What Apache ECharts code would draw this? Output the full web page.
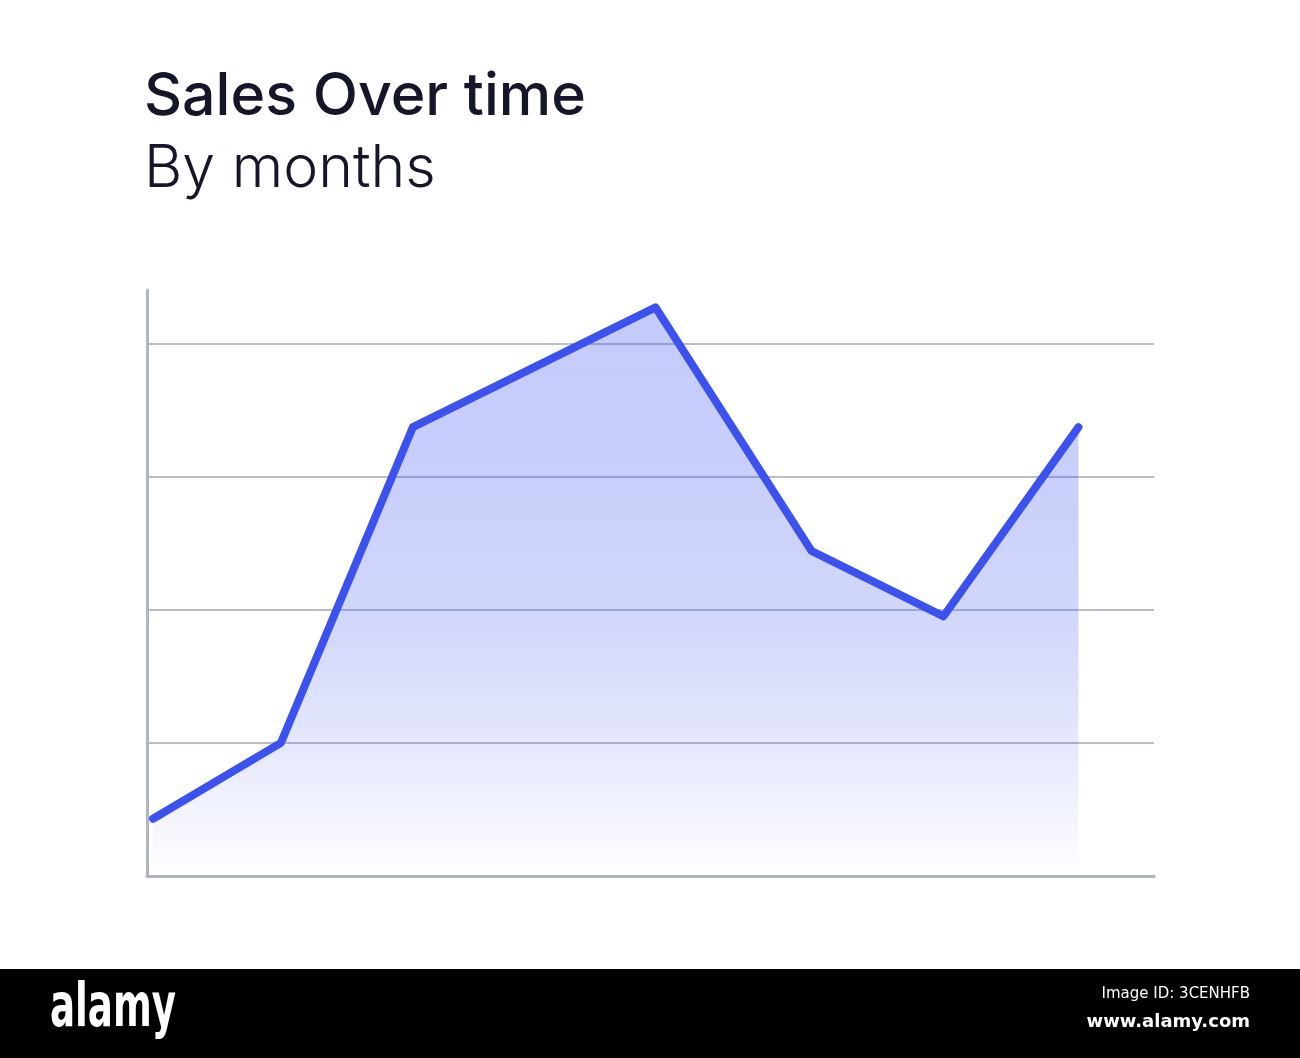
<html lang="en">
  <head>
    <meta charset="utf-8" />
    <title>Sales Over time</title>
    <script src="https://cdn.jsdelivr.net/npm/echarts@6/dist/echarts.min.js"></script>
    <style>
      html, body { margin: 0; padding: 0; background: #fff; }
    </style>
  </head>
  <body>
    <div id="main" style="width: 1300px;height:1058px;"></div>
    <script type="text/javascript">
      // month positions along the x axis (0..10) and sales values
      var monthPos = [0.06, 1.33, 2.64, 5.05, 6.6, 7.91, 9.25];
      var sales = [0.43, 1.0, 3.37, 4.27, 2.44, 1.95, 3.37];
      var yTicks = [0, 1, 2, 3, 4];

      var chartDom = document.getElementById('main');
      var myChart = echarts.init(chartDom);
      var option;

      var axisColor = '#afb3c8';

      option = {
        animation: false,
        title: {
          text: 'Sales Over time',
          subtext: 'By months',
          left: 139,
          top: 63,
          itemGap: 13,
          textStyle: {
            fontFamily: 'Inter',
            fontSize: 59,
            fontWeight: 500,
            color: '#16162a'
          },
          subtextStyle: {
            fontFamily: 'Inter',
            fontSize: 59,
            fontWeight: 300,
            color: '#16162a'
          }
        },
        grid: {
          left: 147,
          right: 146,
          top: 290,
          bottom: 182
        },
        xAxis: {
          type: 'value',
          min: 0,
          max: 10,
          axisLine: { show: true, lineStyle: { color: axisColor, width: 3 } },
          axisTick: { show: false },
          axisLabel: { show: false },
          splitLine: { show: false }
        },
        yAxis: {
          type: 'value',
          min: yTicks[0],
          max: 4.4,
          interval: 1,
          axisLine: { show: true, lineStyle: { color: axisColor, width: 3 } },
          axisTick: { show: false },
          axisLabel: { show: false },
          splitLine: {
            show: true,
            lineStyle: {
              width: 1.5,
              color: ['rgba(0,0,0,0)', '#a2a6c2', '#a2a6c2', '#a2a6c2', '#a2a6c2', 'rgba(0,0,0,0)']
            }
          }
        },
        series: [
          {
            type: 'line',
            data: monthPos.map(function (x, i) { return [x, sales[i]]; }),
            symbol: 'none',
            smooth: false,
            clip: false,
            lineStyle: { color: '#3b52ef', width: 8, cap: 'round', join: 'round' },
            areaStyle: {
              opacity: 1,
              color: new echarts.graphic.LinearGradient(0, 0, 0, 1, [
                { offset: 0, color: 'rgba(59,82,239,0.30)' },
                { offset: 0.3, color: 'rgba(59,82,239,0.28)' },
                { offset: 0.55, color: 'rgba(59,82,239,0.23)' },
                { offset: 0.78, color: 'rgba(59,82,239,0.13)' },
                { offset: 1, color: 'rgba(59,82,239,0)' }
              ])
            },
            z: 3
          }
        ],
        graphic: [
          {
            type: 'rect',
            left: 0,
            top: 969,
            shape: { width: 1300, height: 89 },
            style: { fill: '#000' },
            z: 10
          },
          {
            type: 'text',
            x: 50,
            y: 980,
            scaleX: 0.62,
            style: {
              text: 'alamy',
              fill: '#fff',
              font: 'bold 60px "DejaVu Sans", sans-serif'
            },
            z: 11
          },
          {
            type: 'text',
            right: 50,
            top: 987,
            style: {
              text: 'Image ID: 3CENHFB',
              fill: '#fff',
              font: '15px "DejaVu Sans", sans-serif',
              align: 'right'
            },
            z: 11
          },
          {
            type: 'text',
            right: 50,
            top: 1013,
            style: {
              text: 'www.alamy.com',
              fill: '#fff',
              font: 'bold 18px "DejaVu Sans", sans-serif',
              align: 'right'
            },
            z: 11
          }
        ]
      };

      option && myChart.setOption(option);
    </script>
  </body>
</html>
